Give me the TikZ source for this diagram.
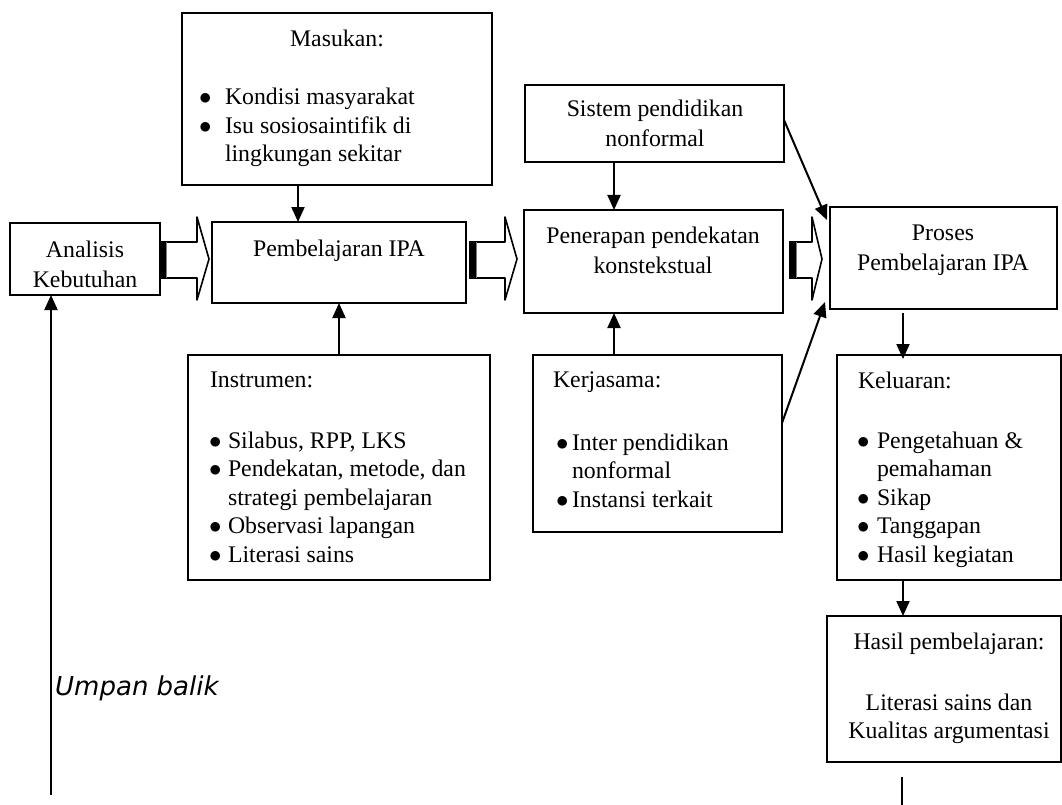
\documentclass[tikz,border=0pt]{standalone}
\usepackage{fontspec}
\setmainfont{Liberation Serif}
\newfontfamily\umpfont{DejaVu Sans}
\usetikzlibrary{arrows.meta}
\newcommand\bl[2]{\makebox[#1pt][l]{\hspace*{-1pt}$\bullet$}#2}
\newcommand\cl[2]{\hspace*{#1pt}#2}
\newcommand\mybarrow[3]{%
  \draw[line width=1.6pt, line join=round, fill=white] (#1,242) -- (#2,242) -- (#2,217) -- (#3,259) -- (#2,300) -- (#2,278) -- (#1,278) -- cycle;
  \fill (#1-1,241) rectangle (#1+5.5,279);
  \draw[gray, line width=1.2pt] (#1+6.8,242) -- (#1+6.8,278);
}
\begin{document}
\begin{tikzpicture}[x=1pt,y=-1pt,
  box/.style={draw, line width=1.8pt, inner sep=0pt, outer sep=0pt, anchor=north west},
  arr/.style={line width=2pt, -{Triangle[width=13pt,length=15pt]}},
  ln/.style={line width=2pt},
  txt/.style={inner sep=0pt, outer sep=0pt, font=\fontsize{23.8}{28.5}\selectfont}]
\useasboundingbox (0,0) rectangle (1062,805);

% boxes
\node[box, minimum width=150pt, minimum height=72pt] (analisis) at (10,223) {};
\node[box, minimum width=310pt, minimum height=172pt] (masukan) at (182,13) {};
\node[box, minimum width=254pt, minimum height=81pt] (pemb) at (212,222) {};
\node[box, minimum width=302pt, minimum height=225pt] (instr) at (188,355) {};
\node[box, minimum width=259pt, minimum height=77pt] (sistem) at (525,85) {};
\node[box, minimum width=259pt, minimum height=103pt] (pener) at (524,210) {};
\node[box, minimum width=249pt, minimum height=177pt] (kerja) at (533,355) {};
\node[box, minimum width=227pt, minimum height=102pt] (proses) at (830,207) {};
\node[box, minimum width=224pt, minimum height=225pt] (kelu) at (837,355) {};
\node[box, minimum width=234pt, minimum height=146pt] (hasil) at (827,616) {};

% texts
\node[txt, anchor=base] (tanalisis) at (85,257) {\begin{tabular}[t]{@{}c@{}}Analisis\\[1.5pt]Kebutuhan\end{tabular}};
\node[txt, anchor=base] (tmasukan) at (337,47) {Masukan:};
\node[txt, anchor=base west] (lmasukan) at (200,105) {\begin{tabular}[t]{@{}l@{}}\bl{25}{Kondisi masyarakat}\\ \bl{25}{Isu sosiosaintifik di}\\ \cl{25}{lingkungan sekitar}\end{tabular}};
\node[txt, anchor=base] (tpemb) at (339,256) {Pembelajaran IPA};
\node[txt, anchor=base west] (tinstr) at (210,387) {Instrumen:};
\node[txt, anchor=base west] (linstr) at (210,448) {\begin{tabular}[t]{@{}l@{}}\bl{18}{Silabus, RPP, LKS}\\ \bl{18}{Pendekatan, metode, dan}\\ \cl{18}{strategi pembelajaran}\\ \bl{18}{Observasi lapangan}\\ \bl{18}{Literasi sains}\end{tabular}};
\node[txt, anchor=base] (tsistem) at (655,117) {\begin{tabular}[t]{@{}c@{}}Sistem pendidikan\\[1.5pt]nonformal\end{tabular}};
\node[txt, anchor=base] (tpener) at (653,243) {\begin{tabular}[t]{@{}c@{}}Penerapan pendekatan\\[1.5pt]konstekstual\end{tabular}};
\node[txt, anchor=base west] (tkerja) at (553,387) {Kerjasama:};
\node[txt, anchor=base west] (lkerja) at (557,450) {\begin{tabular}[t]{@{}l@{}}\bl{15}{Inter pendidikan}\\ \cl{15}{nonformal}\\ \bl{15}{Instansi terkait}\end{tabular}};
\node[txt, anchor=base] (tproses) at (943,240) {\begin{tabular}[t]{@{}c@{}}Proses\\[1.5pt]Pembelajaran IPA\end{tabular}};
\node[txt, anchor=base west] (tkelu) at (858,388) {Keluaran:};
\node[txt, anchor=base west] (lkelu) at (858,448) {\begin{tabular}[t]{@{}l@{}}\bl{19}{Pengetahuan \&}\\ \cl{19}{pemahaman}\\ \bl{19}{Sikap}\\ \bl{19}{Tanggapan}\\ \bl{19}{Hasil kegiatan}\end{tabular}};
\node[txt, anchor=base] (thasil) at (949,649) {Hasil pembelajaran:};
\node[txt, anchor=base] (lhasil) at (949,710) {\begin{tabular}[t]{@{}c@{}}Literasi sains dan\\ Kualitas argumentasi\end{tabular}};
\node[inner sep=0pt, anchor=base west, font=\umpfont\itshape\fontsize{26}{30}\selectfont] (umpan) at (55,695) {Umpan balik};

% block arrows
\mybarrow{160}{197}{209}
\mybarrow{470}{505}{517}
\mybarrow{790}{812}{822}

% connectors
\draw[arr] ([xshift=-39pt]masukan.south) -- ([xshift=-39pt]masukan.south |- pemb.north);
\draw[arr] (instr.north) -- (instr.north |- pemb.south);
\draw[arr] ([xshift=-40.5pt]sistem.south) -- ([xshift=-40.5pt]sistem.south |- pener.north);
\draw[arr] ([xshift=-43.5pt]kerja.north) -- ([xshift=-43.5pt]kerja.north |- pener.south);
\draw[arr] ([yshift=-35pt]sistem.north east) -- ([xshift=-3pt,yshift=-13pt]proses.north west);
\draw[arr] ([yshift=-68pt]kerja.north east) -- ([xshift=-5pt,yshift=7pt]proses.south west);
\draw[arr] ([xshift=-40.5pt,yshift=-4pt]proses.south) -- ([xshift=-40.5pt,yshift=-4pt]proses.south |- kelu.north);
\draw[arr] ([xshift=-46pt]kelu.south) -- ([xshift=-46pt]kelu.south |- hasil.north);
\coordinate (hb) at (902,805);
\draw[ln] (hb) -- (hb |- 0,777);
\coordinate (fb) at (51,795);
\draw[arr] (fb) -- (fb |- analisis.south);
\end{tikzpicture}
\end{document}
